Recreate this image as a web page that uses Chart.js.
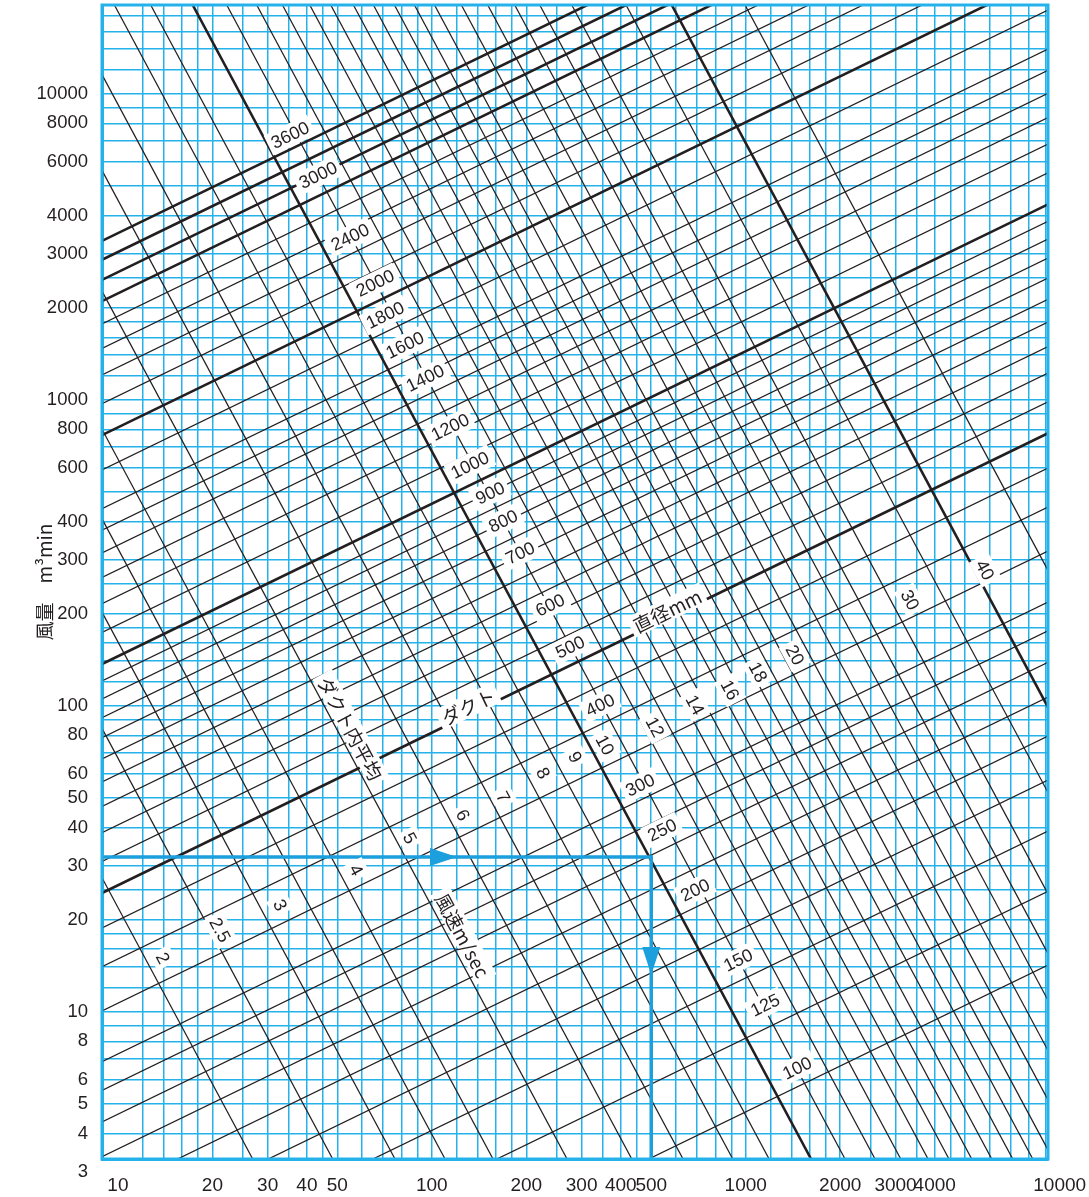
<!DOCTYPE html>
<html lang="ja">
<head>
  <meta charset="UTF-8" />
  <title>ダクト直径・風速・風量</title>
  <script src="https://cdn.jsdelivr.net/npm/chart.js"></script>
  <style>
    html, body { margin: 0; padding: 0; background: #fff; }
    #wrap { width: 1089px; height: 1197px; position: relative; }
  </style>
</head>
<body>
  <div id="wrap"><canvas id="chart"></canvas></div>

  <script>
    // axis range (edges of the printed grid)
    const xMin = 8.9, xMax = 9180;
    const yMin = 3.3, yMax = 19500;

    // tick labels
    const xLabels = [10, 20, 30, 40, 50, 100, 200, 300, 400, 500, 1000, 2000, 3000, 4000, 10000];
    const yLabels = [3, 4, 5, 6, 8, 10, 20, 30, 40, 50, 60, 80, 100, 200, 300, 400, 600, 800,
                     1000, 2000, 3000, 4000, 6000, 8000, 10000];

    // blue grid lines (labels outside the grid get no line)
    const xGrid = [10, 12, 14, 16, 18, 20, 25, 30, 35, 40, 45, 50, 60, 70, 80, 90,
                   100, 120, 140, 160, 180, 200, 250, 300, 350, 400, 450, 500, 600, 700, 800, 900,
                   1000, 1200, 1400, 1600, 1800, 2000, 2500, 3000, 3500, 4000, 4500, 5000, 6000, 7000, 8000, 9000, 10000];
    const xNoGrid = [10, 10000];
    const yGrid = [3, 4, 5, 6, 7, 8, 9, 10, 12, 14, 16, 18, 20, 25, 30, 40, 50, 60, 70, 80, 90,
                   100, 120, 140, 160, 180, 200, 250, 300, 400, 500, 600, 700, 800, 900,
                   1000, 1200, 1400, 1600, 1800, 2000, 2500, 3000, 4000, 5000, 6000, 7000, 8000, 9000,
                   10000, 12000, 14000, 16000, 18000];
    const yNoGrid = [3];

    // air speed lines (m/sec): x where each line meets the bottom edge and the top edge
    const speeds =        [2, 2.5, 3, 3.5, 4, 5, 6, 7, 8, 9, 10, 11, 12, 13, 14, 15, 16, 17, 18, 19, 20, 22, 24, 26, 28, 30, 35, 40, 50];
    const speedAtBottom = [26.88, 48.35, 76.35, 110.2, 156.7, 269.7, 433.5, 631.4, 909.3, 1187, 1615, 2072, 2582, 3118, 3809, 4442, 5248, 6077, 7089, 8211,
                           9515, 11580, 14060, 17130, 20580, 26030, 38770, 54200, 92820];
    const speedAtTop =    [0.2883, 0.5184, 0.8186, 1.181, 1.68, 2.891, 4.647, 6.769, 9.748, 12.72, 17.31, 22.22, 27.69, 33.43, 40.85, 47.64, 56.27, 65.16, 76.01, 88.04,
                           102, 124.2, 150.7, 183.7, 220.7, 279.1, 415.6, 581.1, 994.9];
    const boldSpeeds = [10, 40];

    // duct diameter lines (mm): air volume where each line meets the left edge and the right edge
    const diameters = [100, 125, 150, 175, 200, 225, 250, 275, 300, 350, 400, 450, 500, 550, 600, 650, 700, 750, 800, 850, 900, 950,
                       1000, 1100, 1200, 1300, 1400, 1500, 1600, 1800, 2000, 2200, 2400, 2600, 2800, 3000, 3200, 3400, 3600];
    const diaAtLeft =  [0.447, 0.7784, 1.225, 1.796, 2.503, 3.356, 4.358, 5.524, 6.859, 10.06, 14.03, 18.79, 24.43, 30.96, 38.43, 46.88, 56.36, 66.93, 78.56, 91.32, 105.2, 120.4,
                        136.8, 173.4, 215.3, 262.5, 315.7, 374.9, 440.1, 589.9, 766.3, 971.2, 1206, 1471, 1769, 2099, 2465, 2867, 3304];
    const diaAtRight = [14.21, 24.76, 38.96, 57.14, 79.63, 106.7, 138.7, 175.7, 218.2, 320.2, 446.2, 597.8, 777.1, 984.9, 1223, 1491, 1793, 2129, 2499, 2905, 3348, 3831,
                        4352, 5514, 6846, 8352, 10040, 11930, 14000, 18770, 24380, 30900, 38360, 46810, 56290, 66790, 78410, 91200, 105100];
    const boldDiameters = [500, 1000, 2000, 3000, 3200, 3400, 3600];

    // labels on the diameter lines (text, x, y)
    const diaTags = ['3600', '3000', '2400', '2000', '1800', '1600', '1400', '1200', '1000', '900', '800',
                     '700', '600', '500', '400', '300', '250', '200', '150', '125', '100'];
    const diaTagX = [35.35, 43.41, 54.89, 65.94, 70.96, 82.15, 95.15, 114.3, 132.3, 153.3, 168.6,
                     191, 238, 275.6, 343.5, 460.6, 541.3, 689.4, 945.2, 1152, 1457];
    const diaTagY = [7329, 5423, 3401, 2406, 1891, 1509, 1177, 814.1, 611.8, 495.5, 401.4,
                     315.4, 213.3, 155.5, 100.5, 55.06, 39.25, 24.98, 14.75, 10.51, 6.545];

    // labels on the speed lines
    const speedTags = ['2', '2.5', '3', '4', '5', '6', '7', '8', '9', '10', '12', '14', '16', '18', '20', '30', '40'];
    const speedTagX = [13.92, 21.15, 32.85, 57.36, 85.2, 125.7, 168.6, 226.1, 285.9, 356.3, 514.1, 689.4, 891.3, 1095, 1436, 3338, 5786];
    const speedTagY = [14.98, 18.49, 22.32, 29.03, 36.94, 43.92, 50.29, 60.24, 67.96, 74.37, 85.18, 100.5, 112.5, 128.8, 146.4, 221.5, 277.6];

    // word labels: [text, x, y, which line family gives the angle]
    const words = [
      ['ダクト内平均', 55.28, 84.53, 'speed'],
      ['風速m/sec', 125.7, 17.8, 'speed'],
      ['ダクト', 130.4, 99.75, 'dia'],
      ['直径mm', 561.6, 205.4, 'dia']
    ];

    // worked example: 32 m3/min read across to 500, then down
    const exampleQ = 32;
    const exampleX = 500;
    const headRightX = 120.3;
    const headDownY = 13.18;

    const ink = '#231f20';
    const gridBlue = '#25b2ea';
    const arrowBlue = '#1c9fdd';
    const numFont = '18px "Liberation Sans", Arial, sans-serif';
    const jpFont = '19px "Noto Sans CJK JP", sans-serif';

    const datasets = [];
    datasets.push({
      data: [{ x: xMin, y: exampleQ }, { x: exampleX, y: exampleQ }, { x: exampleX, y: yMin }],
      borderColor: arrowBlue, borderWidth: 3.5, order: 0
    });
    speeds.forEach((v, i) => {
      datasets.push({
        data: [{ x: speedAtBottom[i], y: yMin }, { x: speedAtTop[i], y: yMax }],
        borderColor: ink, borderWidth: boldSpeeds.includes(v) ? 2.6 : 1.25, order: 1
      });
    });
    diameters.forEach((d, i) => {
      datasets.push({
        data: [{ x: xMin, y: diaAtLeft[i] }, { x: xMax, y: diaAtRight[i] }],
        borderColor: ink, borderWidth: boldDiameters.includes(d) ? 2.6 : 1.25, order: 1
      });
    });

    function tag(ctx, cx, cy, text, angle, font) {
      ctx.save();
      ctx.translate(cx, cy);
      ctx.rotate(angle);
      ctx.font = font;
      const w = ctx.measureText(text).width;
      ctx.fillStyle = '#fff';
      ctx.fillRect(-w / 2 - 4, -11, w + 8, 22);
      ctx.fillStyle = ink;
      ctx.textAlign = 'center';
      ctx.textBaseline = 'middle';
      ctx.fillText(text, 0, 1);
      ctx.restore();
    }

    const overlay = {
      id: 'overlay',
      afterDatasetsDraw(chart) {
        const { ctx, chartArea: a } = chart;
        const x = chart.scales.x, y = chart.scales.y;
        const px = v => x.getPixelForValue(v);
        const py = v => y.getPixelForValue(v);

        // frame
        ctx.save();
        ctx.strokeStyle = gridBlue;
        ctx.lineWidth = 3;
        ctx.strokeRect(a.left, a.top, a.right - a.left, a.bottom - a.top);
        ctx.restore();

        const k = speeds.indexOf(10);
        const speedAngle = Math.atan2(py(yMin) - py(yMax), px(speedAtBottom[k]) - px(speedAtTop[k]));
        const j = diameters.indexOf(1000);
        const diaAngle = Math.atan2(py(diaAtRight[j]) - py(diaAtLeft[j]), px(xMax) - px(xMin));

        diaTags.forEach((t, i) => tag(ctx, px(diaTagX[i]), py(diaTagY[i]), t, diaAngle, numFont));
        speedTags.forEach((t, i) => tag(ctx, px(speedTagX[i]), py(speedTagY[i]), t, speedAngle, numFont));
        words.forEach(w => tag(ctx, px(w[1]), py(w[2]), w[0], w[3] === 'speed' ? speedAngle : diaAngle, jpFont));

        // arrow heads
        ctx.save();
        ctx.fillStyle = arrowBlue;
        let hx = px(headRightX), hy = py(exampleQ);
        ctx.beginPath();
        ctx.moveTo(hx, hy); ctx.lineTo(hx - 27, hy - 9); ctx.lineTo(hx - 27, hy + 9);
        ctx.closePath(); ctx.fill();
        hx = px(exampleX); hy = py(headDownY);
        ctx.beginPath();
        ctx.moveTo(hx, hy); ctx.lineTo(hx - 9, hy - 28); ctx.lineTo(hx + 9, hy - 28);
        ctx.closePath(); ctx.fill();
        ctx.restore();
      }
    };

    new Chart(document.getElementById('chart'), {
      type: 'scatter',
      data: { datasets },
      options: {
        responsive: true,
        maintainAspectRatio: false,
        animation: false,
        devicePixelRatio: 1,
        showLine: true,
        elements: { point: { radius: 0 }, line: { tension: 0 } },
        layout: { padding: { left: 0, right: 41, top: 5, bottom: 0 } },
        plugins: { legend: { display: false }, tooltip: { enabled: false } },
        scales: {
          x: {
            type: 'logarithmic', min: xMin, max: xMax,
            afterBuildTicks: s => { s.ticks = xGrid.map(v => ({ value: v })); },
            afterFit: s => { s.height = 38; s.paddingLeft = 0; s.paddingRight = 0; s.paddingTop = 0; s.paddingBottom = 0; },
            ticks: {
              autoSkip: false, maxRotation: 0, padding: 15, color: ink,
              font: { family: '"Liberation Sans", Arial, sans-serif', size: 19 },
              callback: v => xLabels.includes(v) ? String(v) : ''
            },
            grid: {
              drawTicks: false, lineWidth: 1.5,
              color: c => (c.tick && xNoGrid.includes(c.tick.value)) ? 'rgba(0,0,0,0)' : gridBlue
            },
            border: { color: gridBlue, width: 3 }
          },
          y: {
            type: 'logarithmic', min: yMin, max: yMax,
            afterBuildTicks: s => { s.ticks = yGrid.map(v => ({ value: v })); },
            afterFit: s => { s.width = 102; s.paddingLeft = 0; s.paddingRight = 0; s.paddingTop = 0; s.paddingBottom = 0; },
            ticks: {
              autoSkip: false, padding: 14, color: ink,
              font: { family: '"Liberation Sans", Arial, sans-serif', size: 18.5 },
              callback: v => yLabels.includes(v) ? String(v) : ''
            },
            grid: {
              drawTicks: false, lineWidth: 1.5,
              color: c => (c.tick && yNoGrid.includes(c.tick.value)) ? 'rgba(0,0,0,0)' : gridBlue
            },
            border: { color: gridBlue, width: 3 },
            title: {
              display: true, text: '風量　m³min', color: ink,
              font: { family: '"Noto Sans CJK JP", sans-serif', size: 19 },
              padding: { top: 33, bottom: 0 }
            }
          }
        }
      },
      plugins: [overlay]
    });
  </script>
</body>
</html>
